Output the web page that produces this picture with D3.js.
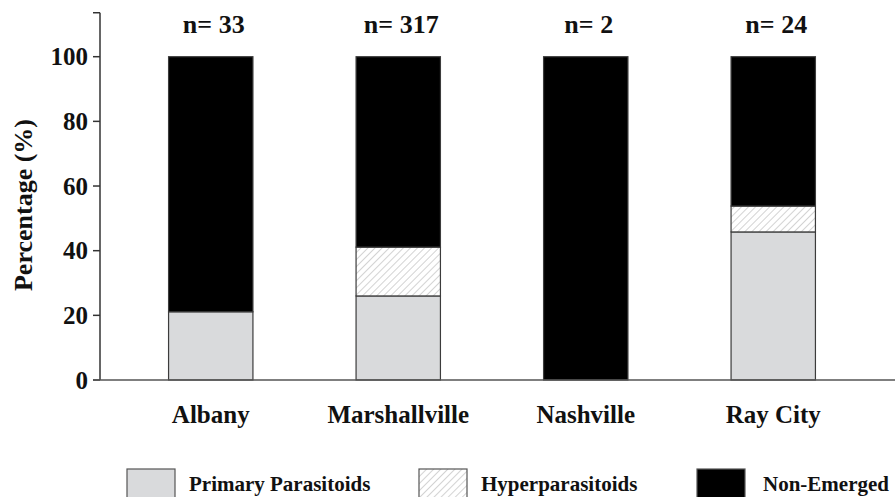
<!DOCTYPE html>
<html>
<head>
<meta charset="utf-8">
<script src="https://cdn.jsdelivr.net/npm/d3@7"></script>
<style>
  body { margin: 0; background: #fff; }
  svg text { font-family: "Liberation Serif", "Times New Roman", serif; font-weight: bold; fill: #111; }
</style>
</head>
<body>
<svg id="chart" width="895" height="497"></svg>
<script>
// sites and sample sizes
const sites = ['Albany', 'Marshallville', 'Nashville', 'Ray City'];
const sampleSizes = [33, 317, 2, 24];

// percentages per site
const primary = [21.1, 26.0, 0, 45.8];
const hyper = [0, 15.1, 0, 8.0];
const nonEmerged = [78.9, 58.9, 100, 46.2];

const seriesNames = ['Primary Parasitoids', 'Hyperparasitoids', 'Non-Emerged'];
const yTicks = [0, 20, 40, 60, 80, 100];

const svg = d3.select('#chart');

// hatch pattern for hyperparasitoids
const defs = svg.append('defs');
const pat = defs.append('pattern')
  .attr('id', 'hatch')
  .attr('patternUnits', 'userSpaceOnUse')
  .attr('width', 5).attr('height', 5)
  .attr('patternTransform', 'rotate(45)');
pat.append('rect').attr('width', 5).attr('height', 5).attr('fill', '#fff');
pat.append('line')
  .attr('x1', 0).attr('y1', 0).attr('x2', 0).attr('y2', 5)
  .attr('stroke', '#a8a8a8').attr('stroke-width', 1);

const fills = ['#d9dadc', 'url(#hatch)', '#000'];

const x = d3.scaleBand().domain(sites).range([117, 867]).paddingInner(0.55).paddingOuter(0.275);
const y = d3.scaleLinear().domain([0, 100]).range([380, 56.7]);

// build stacked table
const table = sites.map((s, i) => ({ site: s, p: primary[i], h: hyper[i], n: nonEmerged[i] }));
const stack = d3.stack().keys(['p', 'h', 'n'])(table);

// bars
svg.append('g').selectAll('g')
  .data(stack)
  .join('g')
  .attr('fill', (d, i) => fills[i])
  .selectAll('rect')
  .data(d => d.filter(v => v[1] - v[0] > 0))
  .join('rect')
  .attr('x', d => x(d.data.site))
  .attr('y', d => y(d[1]))
  .attr('width', x.bandwidth())
  .attr('height', d => y(d[0]) - y(d[1]))
  .attr('stroke', '#3c3c3c')
  .attr('stroke-width', 1.2);

// y axis
const yAxis = svg.append('g').attr('transform', 'translate(100,0)');
yAxis.append('line')
  .attr('x1', 0).attr('x2', 0)
  .attr('y1', y(0)).attr('y2', y(113.6))
  .attr('stroke', '#333').attr('stroke-width', 1.5);
yAxis.append('line')
  .attr('x1', -7).attr('x2', 0)
  .attr('y1', y(113.6)).attr('y2', y(113.6))
  .attr('stroke', '#333').attr('stroke-width', 1.5);
yAxis.selectAll('.tick')
  .data(yTicks)
  .join('line')
  .attr('x1', -7).attr('x2', 0)
  .attr('y1', d => y(d)).attr('y2', d => y(d))
  .attr('stroke', '#333').attr('stroke-width', 1.5);
yAxis.selectAll('text')
  .data(yTicks)
  .join('text')
  .attr('x', -12)
  .attr('y', d => y(d))
  .attr('dy', '0.34em')
  .attr('text-anchor', 'end')
  .style('font-size', '25px')
  .text(d => d);

// x axis line
svg.append('line')
  .attr('x1', 93).attr('x2', 895)
  .attr('y1', y(0)).attr('y2', y(0))
  .attr('stroke', '#555').attr('stroke-width', 1.5);

// site labels
svg.append('g').selectAll('text')
  .data(sites)
  .join('text')
  .attr('x', d => x(d) + x.bandwidth() / 2)
  .attr('y', 423)
  .attr('text-anchor', 'middle')
  .style('font-size', '25px')
  .text(d => d);

// sample sizes
svg.append('g').selectAll('text')
  .data(sites)
  .join('text')
  .attr('x', d => x(d) + x.bandwidth() / 2 + 3)
  .attr('y', 33)
  .attr('text-anchor', 'middle')
  .style('font-size', '26px')
  .text((d, i) => 'n= ' + sampleSizes[i]);

// y title
svg.append('text')
  .attr('transform', 'translate(32,205) rotate(-90)')
  .attr('text-anchor', 'middle')
  .style('font-size', '26px')
  .text('Percentage (%)');

// legend
const legendX = [127, 419, 697];
const legend = svg.append('g').selectAll('g')
  .data(seriesNames)
  .join('g')
  .attr('transform', (d, i) => `translate(${legendX[i]},469)`);
legend.append('rect')
  .attr('width', 48).attr('height', 34)
  .attr('fill', (d, i) => fills[i])
  .attr('stroke', '#555').attr('stroke-width', 1.2);
legend.append('text')
  .attr('x', (d, i) => i === 2 ? 66 : 62)
  .attr('y', 22)
  .style('font-size', '21px')
  .text(d => d);
</script>
</body>
</html>
